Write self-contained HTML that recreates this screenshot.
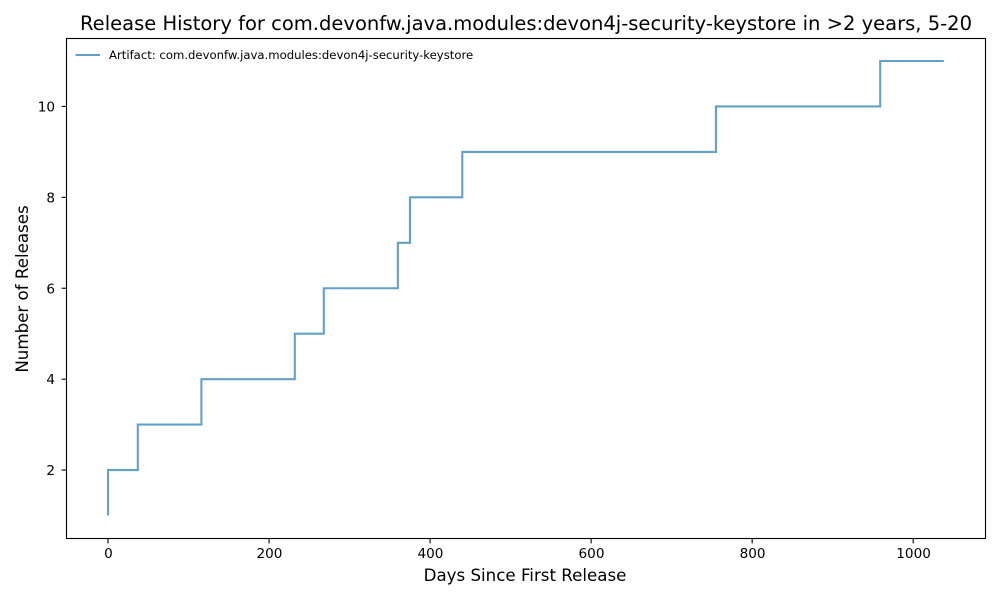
<!DOCTYPE html>
<html>
<head>
<meta charset="utf-8">
<title>Release History</title>
<style>
html,body{margin:0;padding:0;background:#fff;width:1000px;height:600px;overflow:hidden}
svg{display:block}
text{font-family:"DejaVu Sans",sans-serif;fill:#000}
</style>
</head>
<body>
<svg id="chart" width="1000" height="600" viewBox="0 0 1000 600" xmlns="http://www.w3.org/2000/svg"></svg>
<script>
const releaseDays = [0, 0, 37, 116, 232, 268, 360, 375, 440, 755, 959, 1038];
const releaseCounts = [1, 2, 3, 4, 5, 6, 7, 8, 9, 10, 11, 11];
const xTickLabels = [0, 200, 400, 600, 800, 1000];
const yTickLabels = [2, 4, 6, 8, 10];
const chartTitle = 'Release History for com.devonfw.java.modules:devon4j-security-keystore in >2 years, 5-20';
const legendLabel = 'Artifact: com.devonfw.java.modules:devon4j-security-keystore';

const NS = 'http://www.w3.org/2000/svg';
const svg = document.getElementById('chart');
const plot = {left: 66.5, right: 985.5, top: 38.5, bottom: 538.5};
const xScale = d => 108 + d * 0.8052;
const yScale = c => 515.5 - (c - 1) * 45.45;

function make(tag, attrs, parent, content) {
  const el = document.createElementNS(NS, tag);
  for (const k in attrs) el.setAttribute(k, attrs[k]);
  if (content !== undefined) el.textContent = content;
  (parent || svg).appendChild(el);
  return el;
}

const xTicks = make('g', {}, svg);


xTickLabels.forEach(v => {
  const x = xScale(v);
  const tick = make('line', {x1: x, x2: x, y1: plot.bottom, y2: plot.bottom + 4.9, stroke: '#000', 'stroke-width': 1.1}, xTicks);
  
  
  const label = make('text', {x: x + 0.4, y: 558, 'text-anchor': 'middle', 'font-size': 13.6}, xTicks, String(v));
  
  
});

const yTicks = make('g', {}, svg);


yTickLabels.forEach(v => {
  const y = yScale(v);
  const tick = make('line', {x1: plot.left - 4.9, x2: plot.left, y1: y, y2: y, stroke: '#000', 'stroke-width': 1.1}, yTicks);
  
  
  const label = make('text', {x: 55, y: y + 5, 'text-anchor': 'end', 'font-size': 13.6}, yTicks, String(v));
  
  
});

let pathData = '';
releaseDays.forEach((d, i) => {
  const x = xScale(d).toFixed(2);
  if (i === 0) {
    pathData += 'M' + x + ' ' + yScale(releaseCounts[0]).toFixed(2);
  } else {
    pathData += ' L' + x + ' ' + yScale(releaseCounts[i - 1]).toFixed(2);
    pathData += ' L' + x + ' ' + yScale(releaseCounts[i]).toFixed(2);
  }
});
const series = make('path', {d: pathData, fill: 'none', stroke: '#1f77b4', 'stroke-opacity': 0.7, 'stroke-width': 2.08, 'stroke-linejoin': 'miter'}, svg);



const frame = make('rect', {x: plot.left, y: plot.top, width: plot.right - plot.left, height: plot.bottom - plot.top, fill: 'none', stroke: '#000', 'stroke-width': 1.1}, svg);



const title = make('text', {x: 526, y: 30, 'text-anchor': 'middle', 'font-size': 19.53}, svg, chartTitle);



const xTitle = make('text', {x: 525, y: 581, 'text-anchor': 'middle', 'font-size': 16.67}, svg, 'Days Since First Release');



const yTitle = make('text', {x: 28, y: 289, 'text-anchor': 'middle', 'font-size': 16.67, transform: 'rotate(-90 28 289)'}, svg, 'Number of Releases');



const legend = make('g', {}, svg);


const swatch = make('line', {x1: 75.5, x2: 100, y1: 55, y2: 55, stroke: '#1f77b4', 'stroke-opacity': 0.7, 'stroke-width': 2.08}, legend);


const legendText = make('text', {x: 109, y: 59, 'font-size': 11.66}, legend, legendLabel);


</script>
</body>
</html>
